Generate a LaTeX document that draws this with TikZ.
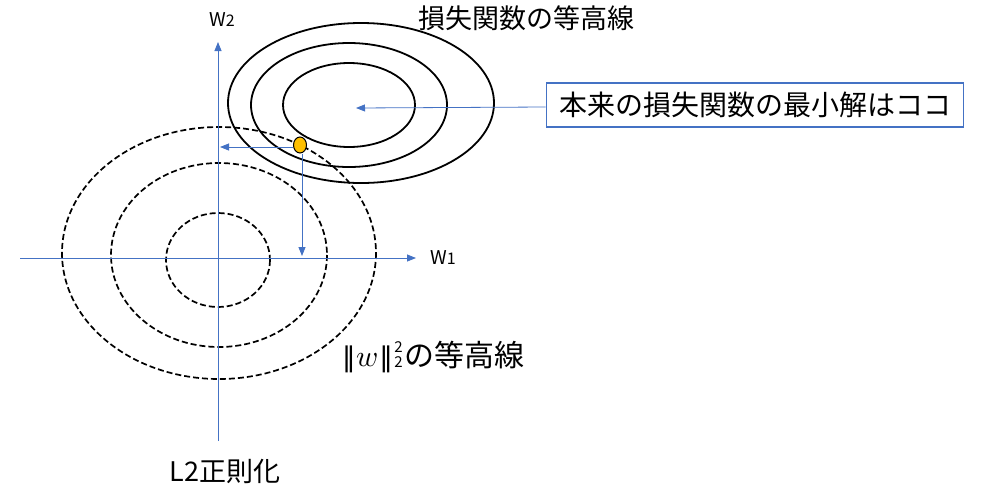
\documentclass[tikz,border=0pt]{standalone}
\usepackage{fontspec}
\usepackage{unicode-math}
\setmathfont{Latin Modern Math}
\setmainfont{Noto Sans CJK JP}
\setsansfont{Noto Sans CJK JP}
\newfontfamily\dvsans{DejaVu Sans}
\usetikzlibrary{arrows.meta,shapes.geometric}
\definecolor{acblue}{HTML}{4472C4}
\definecolor{acorange}{HTML}{FFC000}
\newcommand{\normsq}{{\dvsans\fontsize{27}{30}\selectfont ‖}\kern1pt$w$\kern1pt{\dvsans\fontsize{27}{30}\selectfont ‖}\kern1.5pt\makebox[0pt][l]{\raisebox{14pt}{\fontsize{15}{15}\selectfont 2}}\raisebox{-1.5pt}{\fontsize{15}{15}\selectfont 2}\kern2pt}
\begin{document}
\begin{tikzpicture}[x=1pt,y=-1pt,
  axis/.style={draw=acblue,line width=0.8pt,-{Triangle[length=9pt,width=7pt]}},
  conn/.style={draw=acblue,line width=0.8pt,-{Triangle[length=9pt,width=7pt]}},
  loss/.style={draw=black,line width=1.8pt},
  reg/.style={draw=black,line width=1.7pt,dash pattern=on 6pt off 3pt},
  lbl/.style={inner sep=0pt},
  axlbl/.style={inner sep=0pt,font=\fontsize{19}{22}\selectfont}]
\useasboundingbox (0,0) rectangle (994,499);
% regularization contours
\draw[reg] (218,260) ellipse [x radius=52, y radius=47];
\draw[reg] (219,255) ellipse [x radius=108, y radius=92];
\draw[reg] (219,253) ellipse [x radius=157, y radius=126];
% loss contours
\draw[loss] (349,105) ellipse [x radius=66, y radius=42];
\draw[loss] (349,105) ellipse [x radius=98, y radius=62];
\draw[loss] (361,103) ellipse [x radius=133, y radius=80];
% axes
\coordinate (xs) at (20,258);
\coordinate (xe) at (416,258);
\coordinate (ys) at (218,441);
\coordinate (ye) at (218,42);
\draw[axis] (xs) -- (xe);
\draw[axis] (ys) -- (ye);
\node[axlbl,anchor=west] (w1) at (430,258) {W{\fontsize{16}{18}\selectfont 1}};
\node[axlbl] (w2) at (222,20) {W{\fontsize{16}{18}\selectfont 2}};
% solution point
\node[draw=black,fill=acorange,line width=1pt,ellipse,minimum width=13pt,minimum height=16pt,inner sep=0pt] (p) at (300,145) {};
\coordinate (py) at (220,147);
\coordinate (px) at (302,256);
\draw[conn] (p.west) ++(0,2) -- (py);
\draw[conn] (p.south) ++(2,0) -- (px);
% box
\node[draw=acblue,line width=1.6pt,minimum width=417pt,minimum height=44pt,inner sep=0pt,font=\fontsize{28}{32}\selectfont] (box) at (755,105) {本来の損失関数の最小解はココ};
\coordinate (ctr) at (356,108);
\draw[conn] (box.west) ++(0,2) -- (ctr);
% labels
\node[lbl,font=\fontsize{27}{30}\selectfont] (t1) at (526,18) {損失関数の等高線};
\node[lbl,anchor=west,font=\fontsize{30}{34}\selectfont] (t2) at (342,357) {\normsq の等高線};
\node[lbl,font=\fontsize{27}{30}\selectfont] (t3) at (225,471) {L2正則化};
\end{tikzpicture}
\end{document}
